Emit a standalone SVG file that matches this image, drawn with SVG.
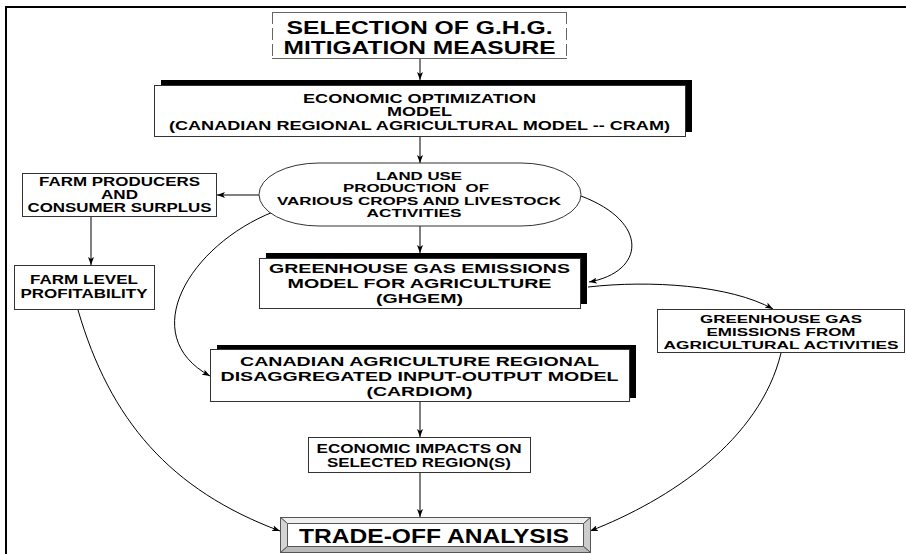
<svg xmlns="http://www.w3.org/2000/svg" width="906" height="554" viewBox="0 0 906 554">
<style>
text{font-family:"Liberation Sans",Arial,Helvetica,sans-serif;font-weight:bold;text-anchor:middle;fill:#000}
.box{fill:#fff;stroke:#333;stroke-width:1}
.shadow{fill:#000}
.conn{fill:none;stroke:#000;stroke-width:1}
.f11{font-size:11.5px}
.f12{font-size:12px}
.f125{font-size:12.5px}
.f14{font-size:13.5px}
.f18{font-size:18px}
.f20{font-size:20px}
</style>
<defs>
<marker id="ah" markerWidth="8" markerHeight="6" refX="8" refY="3" orient="auto" markerUnits="userSpaceOnUse">
<path d="M0,0 L8,3 L0,6 L2,3 z" fill="#000"/>
</marker>
</defs>
<rect width="906" height="554" fill="#fff"/>
<g id="frame" stroke="#000" stroke-width="2" fill="none">
<line x1="5" y1="7" x2="906" y2="7"/>
<line x1="6" y1="6" x2="6" y2="554"/>
</g>
<g id="connectors">
<line class="conn" x1="420" y1="59" x2="420" y2="80" marker-end="url(#ah)"/>
<line class="conn" x1="420" y1="137" x2="420" y2="163" marker-end="url(#ah)"/>
<line class="conn" x1="259" y1="195" x2="217" y2="195" marker-end="url(#ah)"/>
<line class="conn" x1="91" y1="217" x2="91" y2="265" marker-end="url(#ah)"/>
<line class="conn" x1="420" y1="226" x2="420" y2="253" marker-end="url(#ah)"/>
<path class="conn" d="M581,196 C650,222 645,272 589,282" marker-end="url(#ah)"/>
<path class="conn" d="M588,287 C650,280 730,285 773,309" marker-end="url(#ah)"/>
<path class="conn" d="M273,212 C190,245 135,335 210,376" marker-end="url(#ah)"/>
<line class="conn" x1="420" y1="402" x2="420" y2="437" marker-end="url(#ah)"/>
<line class="conn" x1="420" y1="473" x2="420" y2="517" marker-end="url(#ah)"/>
<path class="conn" d="M78,310 C110,420 170,490 280,531" marker-end="url(#ah)"/>
<path class="conn" d="M781,353 C760,440 670,500 590,531" marker-end="url(#ah)"/>
</g>
<g id="selection">
<rect x="272" y="12" width="295" height="47" fill="#fff" stroke="none"/>
<line x1="272" y1="12.5" x2="567" y2="12.5" stroke="#666" stroke-width="1"/>
<line x1="272" y1="58.5" x2="567" y2="58.5" stroke="#666" stroke-width="1"/>
<line x1="272.5" y1="12" x2="272.5" y2="59" stroke="#666" stroke-width="1" stroke-dasharray="12 4"/>
<line x1="566.5" y1="12" x2="566.5" y2="59" stroke="#666" stroke-width="1" stroke-dasharray="12 4"/>
<text class="f18" x="419.5" y="34" textLength="266" lengthAdjust="spacingAndGlyphs">SELECTION OF G.H.G.</text>
<text class="f18" x="419.5" y="54" textLength="272" lengthAdjust="spacingAndGlyphs">MITIGATION MEASURE</text>
</g>
<g id="cram">
<rect class="shadow" x="161" y="80" width="531" height="52"/>
<rect class="box" x="154.5" y="85.5" width="531" height="51"/>
<text class="f125" x="419.5" y="102.5" textLength="233" lengthAdjust="spacingAndGlyphs">ECONOMIC OPTIMIZATION</text>
<text class="f125" x="419.5" y="116" textLength="65" lengthAdjust="spacingAndGlyphs">MODEL</text>
<text class="f125" x="419.5" y="129.5" textLength="501" lengthAdjust="spacingAndGlyphs">(CANADIAN REGIONAL AGRICULTURAL MODEL -- CRAM)</text>
</g>
<g id="landuse">
<rect class="box" x="259" y="163" width="322" height="63" rx="60" ry="31.5"/>
<text class="f11" x="419" y="179.5" textLength="86" lengthAdjust="spacingAndGlyphs">LAND USE</text>
<text class="f11" x="416" y="192" textLength="146" lengthAdjust="spacingAndGlyphs" xml:space="preserve">PRODUCTION  OF</text>
<text class="f11" x="419" y="204.5" textLength="284" lengthAdjust="spacingAndGlyphs">VARIOUS CROPS AND LIVESTOCK</text>
<text class="f11" x="414" y="217" textLength="95" lengthAdjust="spacingAndGlyphs">ACTIVITIES</text>
</g>
<g id="farmproducers">
<rect class="box" x="22.5" y="173.5" width="194" height="43"/>
<text class="f12" x="119.5" y="186" textLength="161" lengthAdjust="spacingAndGlyphs">FARM PRODUCERS</text>
<text class="f12" x="119.5" y="199" textLength="37" lengthAdjust="spacingAndGlyphs">AND</text>
<text class="f12" x="119.5" y="212" textLength="184" lengthAdjust="spacingAndGlyphs">CONSUMER SURPLUS</text>
</g>
<g id="farmlevel">
<rect class="box" x="14.5" y="265.5" width="140" height="44"/>
<text class="f12" x="84" y="284" textLength="108" lengthAdjust="spacingAndGlyphs">FARM LEVEL</text>
<text class="f12" x="84" y="298" textLength="127" lengthAdjust="spacingAndGlyphs">PROFITABILITY</text>
</g>
<g id="ghgem">
<rect class="shadow" x="266" y="253" width="321" height="51"/>
<rect class="box" x="259.5" y="258.5" width="321" height="50"/>
<text class="f14" x="419.5" y="273" textLength="301" lengthAdjust="spacingAndGlyphs">GREENHOUSE GAS EMISSIONS</text>
<text class="f14" x="419.5" y="288" textLength="264" lengthAdjust="spacingAndGlyphs">MODEL FOR AGRICULTURE</text>
<text class="f14" x="419.5" y="303" textLength="87" lengthAdjust="spacingAndGlyphs">(GHGEM)</text>
</g>
<g id="ghgemissions">
<rect class="box" x="657.5" y="309.5" width="247" height="43"/>
<text class="f11" x="781" y="323" textLength="162" lengthAdjust="spacingAndGlyphs">GREENHOUSE GAS</text>
<text class="f11" x="781" y="336" textLength="149" lengthAdjust="spacingAndGlyphs">EMISSIONS FROM</text>
<text class="f11" x="781" y="349" textLength="235" lengthAdjust="spacingAndGlyphs">AGRICULTURAL ACTIVITIES</text>
</g>
<g id="cardiom">
<rect class="shadow" x="217" y="345" width="419" height="53"/>
<rect class="box" x="210.5" y="349.5" width="419" height="52"/>
<text class="f14" x="419.5" y="366" textLength="359" lengthAdjust="spacingAndGlyphs">CANADIAN AGRICULTURE REGIONAL</text>
<text class="f14" x="419.5" y="381" textLength="398" lengthAdjust="spacingAndGlyphs">DISAGGREGATED INPUT-OUTPUT MODEL</text>
<text class="f14" x="419.5" y="396" textLength="106" lengthAdjust="spacingAndGlyphs">(CARDIOM)</text>
</g>
<g id="impacts">
<rect class="box" x="308.5" y="437.5" width="222" height="35"/>
<text class="f12" x="419" y="452.5" textLength="205" lengthAdjust="spacingAndGlyphs">ECONOMIC IMPACTS ON</text>
<text class="f12" x="419" y="466.5" textLength="184" lengthAdjust="spacingAndGlyphs">SELECTED REGION(S)</text>
</g>
<g id="tradeoff">
<rect x="280.5" y="517.5" width="310" height="35" fill="#fff" stroke="#555" stroke-width="1"/>
<polygon points="280.5,517.5 590.5,517.5 583.5,523.5 287.5,523.5" fill="#efefef" stroke="#555" stroke-width="1"/>
<polygon points="280.5,517.5 287.5,523.5 287.5,546.5 280.5,552.5" fill="#d4d4d4" stroke="#555" stroke-width="1"/>
<polygon points="590.5,517.5 590.5,552.5 583.5,546.5 583.5,523.5" fill="#cccccc" stroke="#555" stroke-width="1"/>
<polygon points="280.5,552.5 287.5,546.5 583.5,546.5 590.5,552.5" fill="#bbbbbb" stroke="#555" stroke-width="1"/>
<text class="f20" x="434" y="543" textLength="270" lengthAdjust="spacingAndGlyphs">TRADE-OFF ANALYSIS</text>
</g>
</svg>
